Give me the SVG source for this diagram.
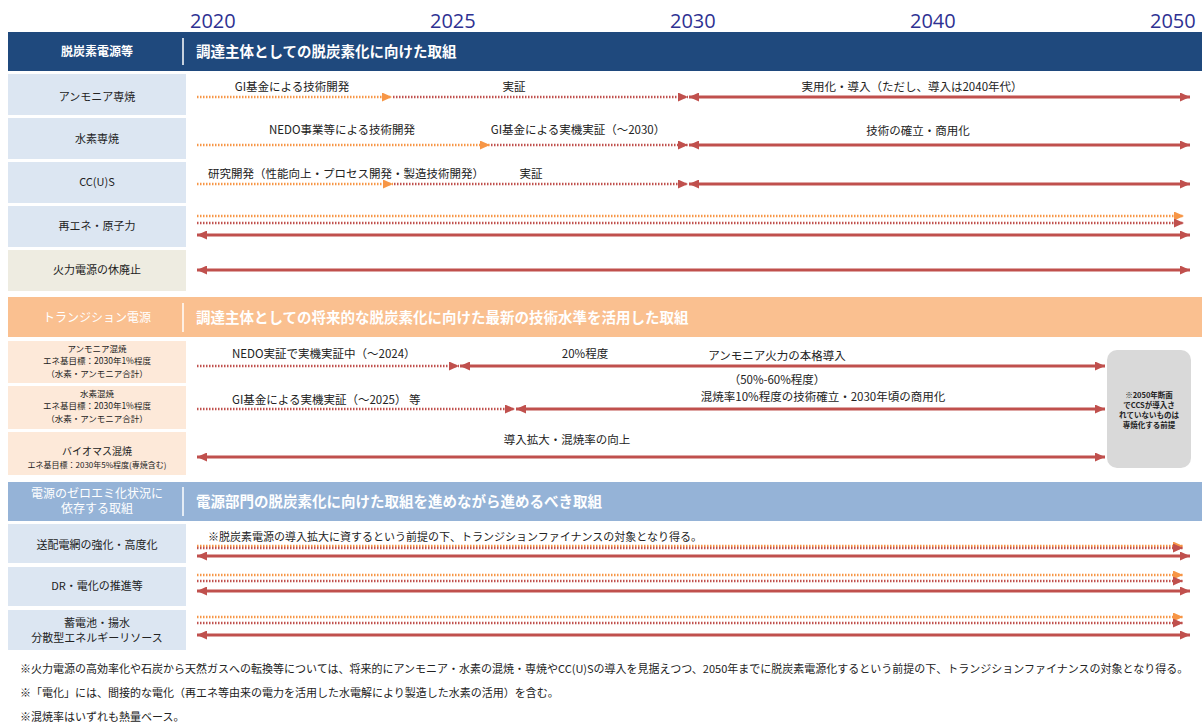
<svg xmlns="http://www.w3.org/2000/svg" width="1202" height="725" viewBox="0 0 1202 725">
<style>
.yr{font-family:"Open Sans","Liberation Sans",sans-serif;font-size:20px;fill:#2E3192}
text{font-family:"Noto Sans CJK JP","Noto Sans",sans-serif}
.hd{font-size:14.5px;font-weight:bold;fill:#fff}
.hl{font-size:12px;font-weight:bold;fill:#fff;text-anchor:middle}
.lb{font-size:11px;fill:#222;text-anchor:middle}
.sm{font-size:8.5px;fill:#222;text-anchor:middle}
.al{font-size:11.5px;fill:#222}
.ac{font-size:11.5px;fill:#222;text-anchor:middle}
.ft{font-size:11px;fill:#222}
.sol{stroke:#C0504D;stroke-width:3;fill:none;marker-start:url(#ar);marker-end:url(#ar)}
.rdot{stroke:#C0504D;stroke-width:2.5;stroke-dasharray:1.5 1.5;fill:none;marker-end:url(#ar)}
.odot{stroke:#F79646;stroke-width:2.5;stroke-dasharray:1.5 1.5;fill:none;marker-end:url(#ao)}
.dv{stroke:#fff;stroke-width:1.5}
</style>
<defs>
<marker id="ar" viewBox="0 0 10 9" refX="10" refY="4.5" markerWidth="10" markerHeight="9" markerUnits="userSpaceOnUse" orient="auto-start-reverse"><path d="M0,0 L10,4.5 L0,9 z" fill="#C0504D"/></marker>
<marker id="ao" viewBox="0 0 10 9" refX="10" refY="4.5" markerWidth="10" markerHeight="9" markerUnits="userSpaceOnUse" orient="auto"><path d="M0,0 L10,4.5 L0,9 z" fill="#F79646"/></marker>
</defs>
<rect width="1202" height="725" fill="#fff"/>
<g id="years">
<text class="yr" x="190" y="28">2020</text>
<text class="yr" x="430" y="28">2025</text>
<text class="yr" x="670" y="28">2030</text>
<text class="yr" x="910" y="28">2040</text>
<text class="yr" x="1150" y="28">2050</text>
</g>
<g id="header1">
<rect x="8" y="32" width="1194" height="39" fill="#1F497D"/>
<line class="dv" x1="183" y1="38" x2="183" y2="65"/>
<text class="hl" x="97" y="56">脱炭素電源等</text>
<text class="hd" x="196" y="57">調達主体としての脱炭素化に向けた取組</text>
</g>
<g id="row-ammonia">
<rect x="8" y="74" width="178" height="41" fill="#DCE6F2"/>
<text class="lb" x="97" y="101">アンモニア専焼</text>
</g>
<g id="row-hydrogen">
<rect x="8" y="118" width="178" height="41" fill="#DCE6F2"/>
<text class="lb" x="97" y="143">水素専焼</text>
</g>
<g id="row-ccus">
<rect x="8" y="162" width="178" height="41" fill="#DCE6F2"/>
<text class="lb" x="97" y="186">CC(U)S</text>
</g>
<g id="row-renew">
<rect x="8" y="206" width="178" height="41" fill="#DCE6F2"/>
<text class="lb" x="97" y="230">再エネ・原子力</text>
</g>
<g id="row-retire">
<rect x="8" y="250" width="178" height="41" fill="#EEECE1"/>
<text class="lb" x="97" y="274">火力電源の休廃止</text>
</g>
<g id="header2">
<rect x="8" y="297" width="1194" height="40" fill="#FAC090"/>
<line class="dv" x1="183" y1="303" x2="183" y2="332"/>
<text class="hl" x="97" y="322" style="font-weight:normal">トランジション電源</text>
<text class="hd" x="196" y="323">調達主体としての将来的な脱炭素化に向けた最新の技術水準を活用した取組</text>
</g>
<g id="row-amm-cofire">
<rect x="8" y="341" width="178" height="42" fill="#FDE9D9"/>
<text class="sm" x="97" y="352">アンモニア混焼</text>
<text class="sm" x="97" y="364">エネ基目標：2030年1%程度</text>
<text class="sm" x="97" y="377">（水素・アンモニア合計）</text>
</g>
<g id="row-h2-cofire">
<rect x="8" y="386" width="178" height="43" fill="#FDE9D9"/>
<text class="sm" x="97" y="397">水素混焼</text>
<text class="sm" x="97" y="409">エネ基目標：2030年1%程度</text>
<text class="sm" x="97" y="422">（水素・アンモニア合計）</text>
</g>
<g id="row-biomass">
<rect x="8" y="432" width="178" height="43" fill="#FDE9D9"/>
<text class="lb" x="97" y="455" style="font-size:10px">バイオマス混焼</text>
<text class="sm" x="97" y="468" style="font-size:8px">エネ基目標：2030年5%程度(専焼含む)</text>
</g>
<g id="note-box">
<rect x="1107" y="350" width="84" height="118" rx="10" fill="#D9D9D9"/>
<text class="sm" x="1149" y="398" style="font-size:7.5px;font-weight:bold">※2050年断面</text>
<text class="sm" x="1149" y="408" style="font-size:7.5px;font-weight:bold">でCCSが導入さ</text>
<text class="sm" x="1149" y="418" style="font-size:7.5px;font-weight:bold">れていないものは</text>
<text class="sm" x="1149" y="428" style="font-size:7.5px;font-weight:bold">専焼化する前提</text>
</g>
<g id="header3">
<rect x="8" y="482" width="1194" height="39" fill="#95B3D7"/>
<line class="dv" x1="183" y1="487" x2="183" y2="516"/>
<text class="hl" x="97" y="498" style="font-weight:normal">電源のゼロエミ化状況に</text>
<text class="hl" x="97" y="513" style="font-weight:normal">依存する取組</text>
<text class="hd" x="196" y="507">電源部門の脱炭素化に向けた取組を進めながら進めるべき取組</text>
</g>
<g id="row-grid">
<rect x="8" y="524" width="178" height="39" fill="#DCE6F2"/>
<text class="lb" x="97" y="549">送配電網の強化・高度化</text>
</g>
<g id="row-dr">
<rect x="8" y="567" width="178" height="39" fill="#DCE6F2"/>
<text class="lb" x="97" y="590">DR・電化の推進等</text>
</g>
<g id="row-storage">
<rect x="8" y="610" width="178" height="40" fill="#DCE6F2"/>
<text class="lb" x="97" y="627">蓄電池・揚水</text>
<text class="lb" x="97" y="642">分散型エネルギーリソース</text>
</g>
<g id="connectors">
<path class="odot" d="M197,97 H392"/>
<path class="rdot" d="M393,97 H688"/>
<path class="sol" d="M689,97 H1190"/>
<path class="odot" d="M197,145 H490"/>
<path class="rdot" d="M491,145 H688"/>
<path class="sol" d="M689,145 H1190"/>
<path class="odot" d="M197,184 H393"/>
<path class="rdot" d="M394,184 H688"/>
<path class="sol" d="M689,184 H1190"/>
<path class="odot" d="M197,216 H1184"/>
<path class="rdot" d="M197,223 H1184"/>
<path class="sol" d="M197,235 H1190"/>
<path class="sol" d="M197,270 H1190"/>
<path class="rdot" d="M197,366 H459"/>
<path class="sol" d="M460,366 H1105"/>
<path class="rdot" d="M197,409 H515"/>
<path class="sol" d="M516,409 H1105"/>
<path class="sol" d="M197,457 H1105"/>
<path class="odot" d="M197,546 H1183"/>
<path class="rdot" d="M197,548 H1183"/>
<path class="sol" d="M197,556 H1190"/>
<path class="odot" d="M197,575 H1183"/>
<path class="rdot" d="M197,581 H1183"/>
<path class="sol" d="M197,591 H1190"/>
<path class="odot" d="M197,617 H1183"/>
<path class="rdot" d="M197,623 H1183"/>
<path class="sol" d="M197,635 H1190"/>
</g>
<g id="labels">
<text class="ac" x="292" y="91">GI基金による技術開発</text>
<text class="ac" x="514" y="91">実証</text>
<text class="ac" x="912" y="91">実用化・導入（ただし、導入は2040年代）</text>
<text class="ac" x="342" y="134">NEDO事業等による技術開発</text>
<text class="ac" x="578" y="134">GI基金による実機実証（～2030）</text>
<text class="ac" x="918" y="135">技術の確立・商用化</text>
<text class="al" x="208" y="178">研究開発（性能向上・プロセス開発・製造技術開発）</text>
<text class="ac" x="531" y="178">実証</text>
<text class="al" x="232" y="358">NEDO実証で実機実証中（～2024）</text>
<text class="ac" x="585" y="358">20%程度</text>
<text class="ac" x="777" y="360">アンモニア火力の本格導入</text>
<text class="ac" x="777" y="384">（50%-60%程度）</text>
<text class="ac" x="823" y="401">混焼率10%程度の技術確立・2030年頃の商用化</text>
<text class="al" x="232" y="404">GI基金による実機実証（～2025） 等</text>
<text class="ac" x="567" y="444">導入拡大・混焼率の向上</text>
<text class="al" x="208" y="541" style="font-size:11px">※脱炭素電源の導入拡大に資するという前提の下、トランジションファイナンスの対象となり得る。</text>
</g>
<g id="footnotes">
<text class="ft" x="20" y="673">※火力電源の高効率化や石炭から天然ガスへの転換等については、将来的にアンモニア・水素の混焼・専焼やCC(U)Sの導入を見据えつつ、2050年までに脱炭素電源化するという前提の下、トランジションファイナンスの対象となり得る。</text>
<text class="ft" x="20" y="697">※「電化」には、間接的な電化（再エネ等由来の電力を活用した水電解により製造した水素の活用）を含む。</text>
<text class="ft" x="20" y="721">※混焼率はいずれも熱量ベース。</text>
</g>
</svg>
